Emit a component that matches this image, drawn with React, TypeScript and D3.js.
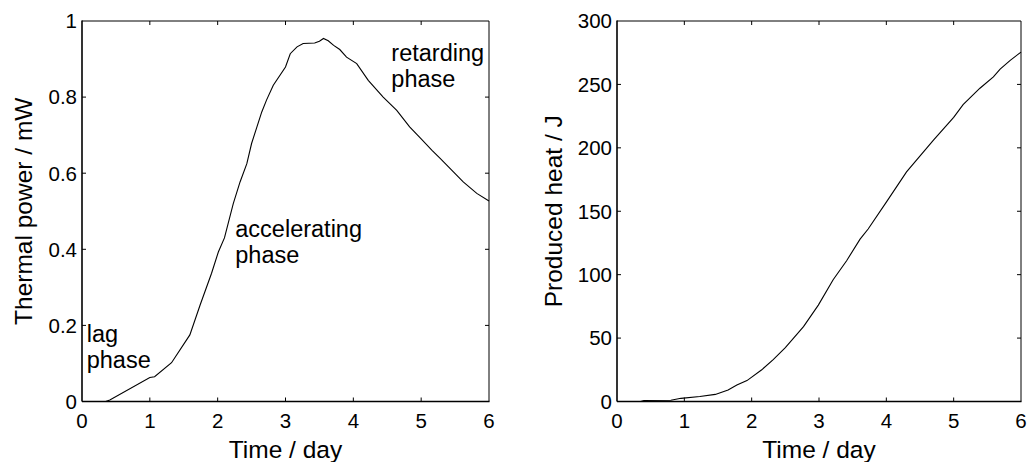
import React from "react";
import * as d3 from "d3";

const powerTime = [0.35, 0.41, 1.0, 1.07, 1.32, 1.59, 1.74, 1.91, 2.01, 2.1, 2.23, 2.33, 2.43, 2.5, 2.65, 2.72, 2.82, 3.0, 3.07, 3.17, 3.26, 3.43, 3.5, 3.56, 3.63, 3.71, 3.8, 3.9, 4.05, 4.22, 4.44, 4.64, 4.83, 5.0, 5.16, 5.28, 5.62, 5.82, 6.0];
const powerValues = [0, 0.004, 0.063, 0.065, 0.102, 0.175, 0.253, 0.337, 0.393, 0.43, 0.52, 0.577, 0.625, 0.678, 0.761, 0.792, 0.831, 0.879, 0.914, 0.932, 0.941, 0.942, 0.947, 0.954, 0.948, 0.936, 0.925, 0.905, 0.888, 0.844, 0.8, 0.765, 0.722, 0.69, 0.66, 0.639, 0.577, 0.547, 0.527];

const heatTime = [0.35, 0.4, 0.8, 0.95, 1.23, 1.46, 1.65, 1.78, 1.93, 2.15, 2.32, 2.5, 2.77, 2.99, 3.21, 3.41, 3.61, 3.73, 4.01, 4.3, 4.7, 5.0, 5.14, 5.39, 5.59, 5.69, 5.84, 6.0];
const heatValues = [0, 0.8, 1, 2.5, 4, 5.6, 9, 13, 16.5, 25, 33, 42.5, 59, 76, 96, 111, 128, 136, 158, 181, 206, 224, 234, 247, 256, 262, 269, 275.5];

const xTicks = [0, 1, 2, 3, 4, 5, 6];
const powerTicks = [0, 0.2, 0.4, 0.6, 0.8, 1];
const powerTickLabels = ["0", "0.2", "0.4", "0.6", "0.8", "1"];
const heatTicks = [0, 50, 100, 150, 200, 250, 300];
const heatTickLabels = ["0", "50", "100", "150", "200", "250", "300"];

const xLabel = "Time / day";
const powerLabel = "Thermal power / mW";
const heatLabel = "Produced heat / J";

const annotations = [
  { lines: ["lag", "phase"], t: 0.07, v: 0.156 },
  { lines: ["accelerating", "phase"], t: 2.26, v: 0.432 },
  { lines: ["retarding", "phase"], t: 4.56, v: 0.894 },
];

const FONT = "'Liberation Sans', Arial, Helvetica, sans-serif";
const TICK_FS = 20.5;
const LABEL_FS = 24.5;
const NOTE_FS = 23.5;

type PanelProps = {
  left: number;
  right: number;
  top: number;
  bottom: number;
  times: number[];
  values: number[];
  yMax: number;
  yTicks: number[];
  yTickLabels: string[];
  yLabel: string;
  yLabelX: number;
  notes?: { lines: string[]; t: number; v: number }[];
};

function Panel(p: PanelProps) {
  const x = d3.scaleLinear().domain([0, 6]).range([p.left, p.right]);
  const y = d3.scaleLinear().domain([0, p.yMax]).range([p.bottom, p.top]);
  const pts = p.times.map((t, i) => [t, p.values[i]] as [number, number]);
  const line = d3
    .line<[number, number]>()
    .x((d) => x(d[0]))
    .y((d) => y(d[1]));
  const tl = 4;
  const cx = (p.left + p.right) / 2;
  const cy = (p.top + p.bottom) / 2;
  return (
    <g>
      <path d={line(pts) || ""} fill="none" stroke="#000" strokeWidth={1.1} />
      <line x1={p.left} x2={p.right} y1={p.top} y2={p.top} stroke="#000" strokeWidth={1} />
      <line x1={p.right} x2={p.right} y1={p.top} y2={p.bottom} stroke="#000" strokeWidth={1} />
      <line x1={p.left} x2={p.right + 0.5} y1={p.bottom} y2={p.bottom} stroke="#000" strokeWidth={1.6} />
      <line x1={p.left} x2={p.left} y1={p.top - 0.5} y2={p.bottom} stroke="#000" strokeWidth={1.6} />
      {xTicks.map((t) => (
        <g key={"x" + t}>
          {t > 0 && t < 6 && (
            <>
              <line x1={x(t)} x2={x(t)} y1={p.bottom} y2={p.bottom - tl} stroke="#000" strokeWidth={1} />
              <line x1={x(t)} x2={x(t)} y1={p.top} y2={p.top + tl} stroke="#000" strokeWidth={1} />
            </>
          )}
          <text x={x(t)} y={p.bottom + 26.5} textAnchor="middle" fontSize={TICK_FS} fontFamily={FONT} fill="#000">
            {String(t)}
          </text>
        </g>
      ))}
      {p.yTicks.map((v, i) => (
        <g key={"y" + v}>
          {i > 0 && i < p.yTicks.length - 1 && (
            <>
              <line x1={p.left} x2={p.left + tl} y1={y(v)} y2={y(v)} stroke="#000" strokeWidth={1} />
              <line x1={p.right} x2={p.right - tl} y1={y(v)} y2={y(v)} stroke="#000" strokeWidth={1} />
            </>
          )}
          <text x={p.left - 5} y={y(v)} dy="0.36em" textAnchor="end" fontSize={TICK_FS} fontFamily={FONT} fill="#000">
            {p.yTickLabels[i]}
          </text>
        </g>
      ))}
      <text x={cx} y={458} textAnchor="middle" fontSize={LABEL_FS} fontFamily={FONT} fill="#000">
        {xLabel}
      </text>
      <text
        transform={`translate(${p.yLabelX},${cy}) rotate(-90)`}
        textAnchor="middle"
        fontSize={LABEL_FS}
        fontFamily={FONT}
        fill="#000"
      >
        {p.yLabel}
      </text>
      {(p.notes || []).map((n, k) => (
        <text key={"n" + k} x={x(n.t)} y={y(n.v)} fontSize={NOTE_FS} fontFamily={FONT} fill="#000">
          {n.lines.map((ln, j) => (
            <tspan key={j} x={x(n.t)} dy={j === 0 ? 0 : 26}>
              {ln}
            </tspan>
          ))}
        </text>
      ))}
    </g>
  );
}

export default function App() {
  return (
    <svg
      width={1027}
      height={462}
      style={{ position: "absolute", left: 0, top: 0, background: "#fff" }}
    >
      <rect width={1027} height={462} fill="#fff" />
      <Panel
        left={82}
        right={489}
        top={21}
        bottom={401.5}
        times={powerTime}
        values={powerValues}
        yMax={1}
        yTicks={powerTicks}
        yTickLabels={powerTickLabels}
        yLabel={powerLabel}
        yLabelX={32}
        notes={annotations}
      />
      <Panel
        left={617}
        right={1021}
        top={21}
        bottom={401.5}
        times={heatTime}
        values={heatValues}
        yMax={300}
        yTicks={heatTicks}
        yTickLabels={heatTickLabels}
        yLabel={heatLabel}
        yLabelX={562}
      />
    </svg>
  );
}
